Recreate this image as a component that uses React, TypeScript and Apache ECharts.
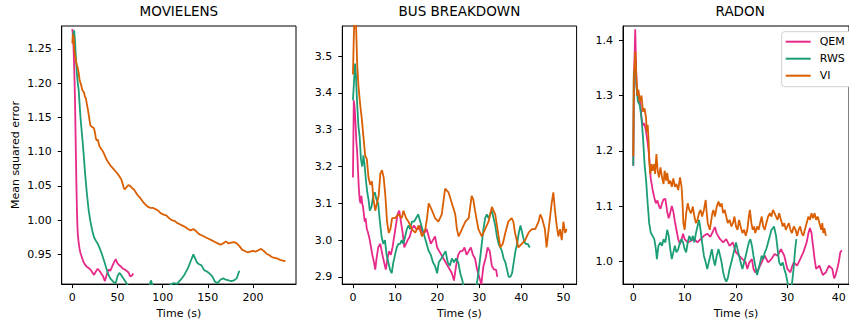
import React, { useEffect, useRef } from "react";
import * as echarts from "echarts";

const FONT = "DejaVu Sans";
const seriesNames = ["QEM", "RWS", "VI"];
const seriesColors = ["#e7298a", "#1b9e77", "#d95f02"];
const panelTitles = ["MOVIELENS", "BUS BREAKDOWN", "RADON"];

// tick values per panel
const movXTicks = [0, 50, 100, 150, 200];
const movYTicks = [0.95, 1.0, 1.05, 1.1, 1.15, 1.2, 1.25];
const busXTicks = [0, 10, 20, 30, 40, 50];
const busYTicks = [2.9, 3.0, 3.1, 3.2, 3.3, 3.4, 3.5];
const radXTicks = [0, 10, 20, 30, 40];
const radYTicks = [1.0, 1.1, 1.2, 1.3, 1.4];

// MOVIELENS [time, mse]
const movQem = [
  [0, 1.279], [0.5, 1.272], [1, 1.26], [1.5, 1.245], [2, 1.225], [2.5, 1.2], [3, 1.17], [3.5, 1.13],
  [4, 1.09], [4.5, 1.05], [5, 1.02], [5.5, 0.995], [6, 0.98], [7, 0.967], [8, 0.958], [9, 0.952],
  [10, 0.948], [11, 0.944], [12, 0.94], [14, 0.935], [16, 0.932], [18, 0.93], [20, 0.928], [22, 0.924],
  [24, 0.92], [26, 0.925], [28, 0.929], [30, 0.926], [32, 0.922], [34, 0.918], [36, 0.911], [38, 0.92],
  [40, 0.928], [42, 0.926], [44, 0.932], [46, 0.938], [48, 0.943], [50, 0.937], [52, 0.934], [54, 0.932],
  [56, 0.929], [58, 0.928], [60, 0.926], [62, 0.924], [64, 0.918], [66, 0.919], [67.5, 0.922],
];
const movRws = [
  [0.5, 1.265], [1, 1.272], [2, 1.277], [3, 1.26], [4, 1.235], [5, 1.215], [6, 1.2], [7, 1.19], [8, 1.17],
  [9, 1.15], [10, 1.135], [12, 1.105], [14, 1.07], [16, 1.04], [18, 1.015], [20, 0.998], [22, 0.985],
  [24, 0.975], [26, 0.97], [28, 0.966], [30, 0.96], [32, 0.953], [34, 0.945], [36, 0.937], [38, 0.928],
  [40, 0.92], [42, 0.915], [44, 0.912], [46, 0.909], [48, 0.908], [50, 0.918], [52, 0.923], [54, 0.92],
  [56, 0.916], [58, 0.912], [60, 0.908], [62, 0.903], [66, 0.895], [72, 0.89], [80, 0.893], [85, 0.902],
  [87, 0.912], [89, 0.904], [95, 0.895], [102, 0.895], [108, 0.905], [112, 0.908], [116, 0.907],
  [120, 0.913], [124, 0.92], [128, 0.93], [131, 0.94], [134, 0.95], [136, 0.944], [138, 0.938],
  [140, 0.936], [143, 0.934], [146, 0.927], [149, 0.925], [152, 0.922], [155, 0.918], [158, 0.91],
  [161, 0.908], [164, 0.913], [167, 0.915], [170, 0.913], [173, 0.912], [176, 0.911], [179, 0.912],
  [182, 0.915], [185, 0.926],
];
const movVi = [
  [0, 1.258], [0.5, 1.272], [1, 1.262], [1.5, 1.268], [2, 1.25], [3, 1.24], [4, 1.232], [5, 1.226],
  [6, 1.222], [7, 1.215], [8, 1.205], [9, 1.2], [10, 1.196], [11, 1.19], [12, 1.188], [13, 1.186],
  [14, 1.18], [15, 1.178], [16, 1.17], [17, 1.163], [18, 1.155], [19, 1.146], [20, 1.138], [22, 1.136],
  [24, 1.134], [25, 1.128], [26, 1.12], [27, 1.116], [28, 1.118], [30, 1.108], [32, 1.104], [34, 1.1],
  [36, 1.094], [38, 1.088], [40, 1.084], [42, 1.08], [44, 1.077], [46, 1.074], [48, 1.071], [50, 1.068],
  [52, 1.064], [54, 1.06], [56, 1.052], [57, 1.047], [58, 1.045], [60, 1.048], [62, 1.051], [64, 1.05],
  [66, 1.047], [68, 1.045], [70, 1.041], [72, 1.037], [74, 1.034], [76, 1.031], [78, 1.027], [80, 1.024],
  [83, 1.02], [86, 1.018], [89, 1.018], [92, 1.016], [95, 1.014], [98, 1.01], [101, 1.008], [104, 1.007],
  [107, 1.003], [110, 1.0], [113, 0.999], [116, 0.996], [119, 0.994], [122, 0.992], [125, 0.99],
  [128, 0.987], [131, 0.985], [134, 0.987], [137, 0.984], [140, 0.98], [143, 0.978], [146, 0.976],
  [149, 0.974], [152, 0.972], [155, 0.97], [158, 0.968], [161, 0.966], [164, 0.964], [167, 0.966],
  [170, 0.969], [173, 0.966], [176, 0.967], [179, 0.968], [182, 0.966], [185, 0.962], [188, 0.957],
  [191, 0.955], [194, 0.953], [197, 0.954], [200, 0.955], [203, 0.954], [206, 0.956], [209, 0.958],
  [212, 0.955], [215, 0.951], [218, 0.949], [221, 0.946], [224, 0.945], [227, 0.944], [230, 0.942],
  [233, 0.941], [236, 0.94],
];

// BUS BREAKDOWN
const busQem = [
  [0, 3.17], [0.2, 3.38], [0.4, 3.36], [0.6, 3.32], [0.8, 3.27], [1, 3.24], [1.2, 3.19], [1.4, 3.14],
  [1.6, 3.11], [1.8, 3.1], [2, 3.12], [2.2, 3.1], [2.4, 3.09], [2.6, 3.07], [2.8, 3.05], [3, 3.06],
  [3.3, 3.03], [3.6, 3.02], [4, 3.0], [4.3, 2.98], [4.6, 2.96], [5, 2.94], [5.3, 2.92], [5.6, 2.95],
  [6, 2.98], [6.5, 2.99], [7, 2.96], [7.4, 2.94], [7.8, 2.92], [8.2, 2.95], [8.6, 2.97], [9, 2.96],
  [9.4, 2.98], [9.8, 3.01], [10.2, 3.04], [10.6, 3.07], [11, 3.08], [11.4, 3.05], [11.8, 3.02],
  [12.2, 2.98], [12.6, 2.99], [13, 3.0], [13.5, 3.01], [14, 3.03], [14.5, 3.04], [15, 3.03],
  [15.5, 3.03], [16, 3.04], [16.5, 3.02], [17, 3.02], [17.5, 3.03], [18, 3.01], [18.5, 2.99], [19, 3.0],
  [19.5, 3.01], [20, 2.98], [20.5, 2.97], [21, 2.96], [21.5, 2.95], [22, 2.94], [22.5, 2.93], [23, 2.92],
  [23.5, 2.91], [24, 2.89], [24.5, 2.93], [25, 2.96], [25.5, 2.97], [26, 2.97], [26.5, 2.98], [27, 2.96],
  [27.5, 2.97], [28, 2.98], [28.5, 2.96], [29, 2.95], [29.5, 2.92], [30, 2.9], [30.5, 2.88], [31, 2.93],
  [31.5, 2.95], [32, 2.98], [32.5, 2.97], [33, 2.93], [33.5, 2.92], [34, 2.92], [34.3, 2.9],
];
const busRws = [
  [0, 3.38], [0.2, 3.42], [0.5, 3.48], [0.7, 3.45], [1, 3.37], [1.3, 3.31], [1.6, 3.28], [1.9, 3.22],
  [2.2, 3.2], [2.5, 3.23], [2.8, 3.2], [3.1, 3.16], [3.4, 3.13], [3.7, 3.11], [4, 3.08], [4.4, 3.09],
  [4.8, 3.12], [5.2, 3.13], [5.6, 3.11], [6, 3.1], [6.4, 3.05], [6.8, 3.01], [7.2, 2.99], [7.6, 3.0],
  [8, 2.96], [8.4, 2.94], [8.8, 2.92], [9.2, 2.91], [9.6, 2.94], [10, 2.96], [10.4, 2.98], [10.8, 2.99],
  [11.2, 2.99], [11.6, 3.0], [12, 2.99], [12.4, 3.01], [12.8, 3.03], [13.2, 3.04], [13.6, 3.03],
  [14, 3.05], [14.5, 3.05], [15, 3.06], [15.5, 3.07], [16, 3.05], [16.5, 3.03], [17, 3.01], [17.5, 2.99],
  [18, 2.97], [18.5, 2.96], [19, 2.94], [19.5, 2.93], [20, 2.91], [20.4, 2.94], [21, 2.95], [21.5, 2.96],
  [22, 2.97], [22.5, 2.94], [23, 2.93], [23.5, 2.95], [24, 2.94], [24.5, 2.95], [25, 2.94], [25.5, 2.91],
  [26, 2.89], [26.5, 2.86], [27, 2.83], [28, 2.8], [28.8, 2.84], [29.4, 2.88], [29.8, 2.91], [30.2, 2.95],
  [30.6, 2.99], [31, 3.03], [31.4, 3.06], [31.8, 3.07], [32.2, 3.06], [32.6, 3.07], [33, 3.08],
  [33.4, 3.06], [33.8, 3.04], [34.2, 3.01], [34.6, 2.99], [35, 2.98], [35.4, 2.97], [35.8, 2.95],
  [36.2, 2.94], [36.6, 2.92], [37, 2.9], [37.4, 2.9], [37.8, 2.91], [38.2, 2.94], [38.6, 2.97], [39, 2.99],
  [39.4, 3.02], [39.8, 3.04], [40.2, 3.02], [40.6, 3.0], [41, 2.99], [41.5, 2.99], [42, 2.98],
];
const busVi = [
  [0, 3.45], [0.2, 3.55], [0.4, 3.62], [0.7, 3.6], [1, 3.48], [1.3, 3.42], [1.7, 3.37], [2.1, 3.33],
  [2.5, 3.28], [2.9, 3.23], [3.3, 3.22], [3.7, 3.17], [4.1, 3.15], [4.5, 3.16], [4.9, 3.11], [5.3, 3.08],
  [5.7, 3.1], [6.1, 3.12], [6.5, 3.18], [6.9, 3.19], [7.3, 3.17], [7.7, 3.12], [8.1, 3.05], [8.5, 3.02],
  [8.9, 3.03], [9.3, 3.06], [10, 3.06], [10.8, 3.07], [11.6, 3.06], [12, 3.08], [12.6, 3.06], [13.2, 3.05],
  [14, 3.03], [14.8, 3.02], [15.6, 3.04], [16.4, 3.01], [17.2, 3.03], [17.6, 3.06], [18, 3.1], [18.8, 3.08],
  [19.5, 3.06], [20.3, 3.05], [21.1, 3.07], [21.9, 3.14], [22.7, 3.13], [23.5, 3.1], [24.3, 3.07],
  [24.7, 3.03], [25.1, 3.01], [25.9, 3.03], [26.7, 3.05], [27.5, 3.06], [28.2, 3.12], [28.6, 3.11],
  [29, 3.08], [29.8, 3.03], [30.6, 3.01], [31.4, 3.03], [32.2, 3.05], [33, 3.09], [33.8, 3.07],
  [34.6, 3.01], [35, 2.98], [35.6, 2.99], [36.2, 3.02], [36.9, 3.05], [37.7, 3.06], [38.1, 3.05],
  [38.5, 3.02], [39.3, 2.98], [40.1, 2.99], [40.9, 3.0], [41.7, 3.02], [42.5, 3.03], [43.3, 3.03],
  [44.1, 3.05], [44.5, 3.07], [44.9, 3.06], [45.6, 3.03], [46, 2.98], [46.4, 3.02], [46.8, 3.06],
  [47.2, 3.1], [47.6, 3.13], [48, 3.08], [48.4, 3.04], [48.8, 3.01], [49.2, 3.03], [49.6, 3.0], [50, 3.05],
  [50.4, 3.02], [50.8, 3.03],
];

// RADON
const radQem = [
  [0, 1.173], [0.15, 1.33], [0.38, 1.42], [0.5, 1.37], [0.63, 1.32], [0.8, 1.3], [1, 1.305], [1.2, 1.29],
  [1.4, 1.285], [1.6, 1.26], [1.8, 1.245], [2, 1.25], [2.2, 1.248], [2.5, 1.235], [2.8, 1.215], [3.1, 1.19],
  [3.4, 1.15], [3.75, 1.13], [4.1, 1.115], [4.4, 1.105], [4.7, 1.11], [5, 1.1], [5.3, 1.095], [5.6, 1.105],
  [5.9, 1.112], [6.25, 1.113], [6.6, 1.09], [6.9, 1.078], [7.2, 1.088], [7.5, 1.1], [7.8, 1.09],
  [8.1, 1.072], [8.4, 1.057], [8.75, 1.04], [9.1, 1.031], [9.4, 1.04], [9.7, 1.05], [10, 1.04],
  [10.6, 1.034], [11.25, 1.037], [11.9, 1.04], [12.5, 1.034], [13.1, 1.04], [13.75, 1.046], [14.4, 1.05],
  [15, 1.044], [15.6, 1.056], [15.9, 1.062], [16.25, 1.05], [16.9, 1.04], [17.5, 1.034], [18.1, 1.04],
  [18.75, 1.028], [19.4, 1.034], [20, 1.016], [20.6, 1.01], [21.25, 1.004], [21.9, 0.998], [22.2, 0.986],
  [22.6, 0.998], [23.1, 1.004], [23.4, 0.986], [23.75, 0.98], [24.4, 0.986], [25, 0.998], [25.6, 1.01],
  [26.25, 0.998], [26.9, 1.004], [27.5, 1.013], [28.1, 1.01], [28.75, 1.022], [29.4, 1.01], [29.7, 0.998],
  [30, 0.986], [30.6, 0.98], [30.9, 0.99], [31.25, 0.998], [31.9, 0.992], [32.5, 1.004], [33.1, 1.016],
  [33.75, 1.034], [34.1, 1.051], [34.4, 1.06], [34.7, 1.051], [35, 1.028], [35.3, 1.004], [35.6, 0.986],
  [36.25, 0.992], [36.9, 0.975], [37.5, 0.98], [38.1, 0.992], [38.75, 0.986], [39.1, 0.969], [39.4, 0.975],
  [39.7, 0.986], [40, 0.998], [40.3, 1.016], [40.6, 1.02],
];
const radRws = [
  [0, 1.173], [0.1, 1.34], [0.3, 1.348], [0.5, 1.357], [0.6, 1.318], [0.9, 1.289], [1.25, 1.283],
  [1.6, 1.259], [1.9, 1.223], [2.2, 1.176], [2.5, 1.146], [2.8, 1.105], [3.1, 1.069], [3.4, 1.052],
  [3.75, 1.046], [4.1, 1.04], [4.4, 1.022], [4.6, 1.004], [4.9, 1.028], [5.3, 1.034], [5.6, 1.028],
  [5.9, 1.04], [6.25, 1.034], [6.6, 1.057], [6.9, 1.046], [7.2, 1.022], [7.5, 1.004], [7.8, 1.016],
  [8.1, 1.028], [8.4, 1.016], [8.75, 1.022], [9.1, 1.034], [9.4, 1.04], [9.7, 1.034], [10, 1.022],
  [10.3, 1.016], [10.6, 1.034], [10.9, 1.046], [11.25, 1.037], [11.6, 1.046], [11.9, 1.034], [12.2, 1.051],
  [12.5, 1.063], [12.8, 1.075], [13.1, 1.057], [13.4, 1.034], [13.75, 1.01], [14.1, 0.998], [14.4, 0.986],
  [14.7, 0.998], [15, 1.01], [15.3, 1.022], [15.6, 1.004], [15.9, 0.992], [16.25, 1.01], [16.6, 1.022],
  [16.9, 1.01], [17.2, 0.998], [17.5, 0.98], [17.8, 0.969], [18.1, 0.963], [18.4, 0.969], [18.75, 0.986],
  [19.1, 0.998], [19.4, 1.01], [19.7, 1.022], [20, 1.034], [20.3, 1.022], [20.6, 1.01], [20.9, 0.998],
  [21.25, 0.986], [21.6, 0.998], [21.9, 1.01], [22.2, 1.022], [22.5, 1.034], [22.8, 1.04], [23.1, 1.028],
  [23.4, 1.01], [23.75, 0.992], [24.1, 0.975], [24.4, 0.986], [24.7, 0.998], [25, 1.01], [25.3, 1.004],
  [25.6, 1.016], [25.9, 1.022], [26.25, 1.034], [26.6, 1.046], [26.9, 1.057], [27.2, 1.06], [27.4, 1.063],
  [27.8, 1.046], [28.1, 1.022], [28.4, 0.998], [28.75, 0.992], [29.1, 0.998], [29.4, 0.986], [29.7, 0.977],
  [30, 0.963], [30.3, 0.951], [30.6, 0.945], [30.9, 0.96], [31.25, 0.99], [31.5, 1.02], [31.75, 1.04],
];
const radVi = [
  [0, 1.19], [0.1, 1.33], [0.4, 1.38], [0.6, 1.336], [0.8, 1.3], [1, 1.311], [1.25, 1.289], [1.6, 1.3],
  [1.9, 1.271], [2.2, 1.277], [2.5, 1.259], [2.6, 1.235], [2.8, 1.247], [3, 1.217], [3.1, 1.182],
  [3.3, 1.158], [3.6, 1.176], [3.75, 1.164], [4.1, 1.176], [4.25, 1.158], [4.5, 1.194], [4.75, 1.164],
  [5, 1.152], [5.3, 1.17], [5.6, 1.152], [5.9, 1.14], [6.1, 1.164], [6.4, 1.146], [6.6, 1.16], [6.9, 1.14],
  [7.2, 1.146], [7.5, 1.135], [7.8, 1.15], [8.1, 1.135], [8.4, 1.14], [8.75, 1.129], [9.1, 1.152],
  [9.4, 1.135], [9.6, 1.105], [9.75, 1.069], [10, 1.057], [10.3, 1.087], [10.6, 1.105], [10.9, 1.093],
  [11.25, 1.087], [11.6, 1.099], [11.9, 1.081], [12.2, 1.069], [12.5, 1.075], [12.8, 1.087], [13.1, 1.093],
  [13.4, 1.081], [13.75, 1.093], [14.1, 1.111], [14.25, 1.093], [14.5, 1.069], [14.9, 1.057], [15.1, 1.069],
  [15.4, 1.087], [15.6, 1.093], [15.9, 1.081], [16.25, 1.099], [16.6, 1.108], [16.9, 1.099], [17.2, 1.105],
  [17.5, 1.087], [17.8, 1.093], [18.1, 1.081], [18.4, 1.069], [18.75, 1.075], [19.1, 1.063], [19.4, 1.069],
  [19.7, 1.081], [20, 1.063], [20.3, 1.057], [20.6, 1.075], [20.9, 1.063], [21.25, 1.051], [21.6, 1.057],
  [21.9, 1.046], [22.2, 1.057], [22.5, 1.081], [22.7, 1.093], [23, 1.069], [23.25, 1.057], [23.5, 1.063],
  [23.75, 1.051], [24.1, 1.063], [24.4, 1.057], [24.7, 1.069], [25, 1.081], [25.3, 1.063], [25.6, 1.057],
  [25.9, 1.069], [26.25, 1.081], [26.6, 1.087], [26.9, 1.081], [27.2, 1.093], [27.5, 1.087], [27.8, 1.081],
  [28.1, 1.075], [28.4, 1.087], [28.75, 1.075], [29.1, 1.063], [29.4, 1.069], [29.7, 1.057], [30, 1.063],
  [30.3, 1.069], [30.6, 1.057], [30.9, 1.051], [31.25, 1.063], [31.6, 1.057], [31.9, 1.046], [32.2, 1.057],
  [32.5, 1.063], [32.8, 1.051], [33.1, 1.046], [33.4, 1.057], [33.75, 1.069], [34.1, 1.081], [34.4, 1.075],
  [34.7, 1.087], [35, 1.078], [35.3, 1.087], [35.6, 1.075], [35.9, 1.081], [36.25, 1.069], [36.6, 1.057],
  [36.8, 1.069], [37, 1.051], [37.2, 1.06], [37.5, 1.046],
];

const panels = [
  { title: panelTitles[0], xr: [-11.8, 247.7], yr: [0.9066, 1.2834], xt: movXTicks, yt: movYTicks, dec: 2, data: [movQem, movRws, movVi] },
  { title: panelTitles[1], xr: [-2.53, 53.13], yr: [2.8805, 3.5818], xt: busXTicks, yt: busYTicks, dec: 1, data: [busQem, busRws, busVi] },
  { title: panelTitles[2], xr: [-2.0, 42.0], yr: [0.9586, 1.4261], xt: radXTicks, yt: radYTicks, dec: 1, data: [radQem, radRws, radVi] },
];

const GRID_LEFTS = [61.7, 342.3, 623];
const GRID_TOP = 26;
const GRID_W = 234.3;
const GRID_H = 263.3;

export default function App() {
  const ref = useRef<HTMLDivElement>(null);
  useEffect(() => {
    document.body.style.margin = "0";
    if (!ref.current) return;
    const chart = echarts.init(ref.current, undefined, { renderer: "svg" });
    const txt = { color: "#000", fontFamily: FONT };
    const option: any = {
      animation: false,
      backgroundColor: "#fff",
      title: panels.map((p, i) => ({
        text: p.title,
        left: GRID_LEFTS[i] + GRID_W / 2,
        top: 4,
        textAlign: "center",
        padding: 0,
        textStyle: { ...txt, fontSize: 13.5, fontWeight: "normal" },
      })),
      legend: {
        data: seriesNames,
        orient: "vertical",
        left: 781.7,
        top: 31.7,
        icon: "rect",
        itemWidth: 25,
        itemHeight: 2,
        itemGap: 3,
        padding: [3, 14, 4, 4],
        backgroundColor: "#fff",
        borderColor: "#d0d0d0",
        borderWidth: 1,
        borderRadius: 3,
        textStyle: { ...txt, fontSize: 11, lineHeight: 14, padding: [0, 0, 0, 4] },
      },
      grid: panels.map((_, i) => ({
        left: GRID_LEFTS[i],
        top: GRID_TOP,
        width: GRID_W,
        height: GRID_H,
        show: true,
        borderColor: "#000",
        borderWidth: 1,
        backgroundColor: "transparent",
      })),
      xAxis: panels.map((p, i) => ({
        type: "value",
        gridIndex: i,
        min: p.xr[0],
        max: p.xr[1],
        name: "Time (s)",
        nameLocation: "middle",
        nameGap: 22,
        nameTextStyle: { ...txt, fontSize: 11 },
        axisLine: { show: true, onZero: false, lineStyle: { color: "#000", width: 1 } },
        axisTick: { show: true, length: 4, lineStyle: { color: "#000", width: 1 }, customValues: p.xt },
        axisLabel: { ...txt, fontSize: 11, margin: 8, customValues: p.xt, formatter: (v: number) => String(Math.round(v)) },
        splitLine: { show: false },
      })),
      yAxis: panels.map((p, i) => ({
        type: "value",
        gridIndex: i,
        min: p.yr[0],
        max: p.yr[1],
        name: i === 0 ? "Mean squared error" : "",
        nameLocation: "middle",
        nameGap: 41,
        nameRotate: 90,
        nameTextStyle: { ...txt, fontSize: 11 },
        axisLine: { show: true, onZero: false, lineStyle: { color: "#000", width: 1 } },
        axisTick: { show: true, length: 4, lineStyle: { color: "#000", width: 1 }, customValues: p.yt },
        axisLabel: { ...txt, fontSize: 11, margin: 10, customValues: p.yt, formatter: (v: number) => v.toFixed(p.dec) },
        splitLine: { show: false },
      })),
      series: panels.flatMap((p, i) =>
        p.data.map((d, k) => ({
          type: "line",
          name: seriesNames[k],
          xAxisIndex: i,
          yAxisIndex: i,
          data: d,
          showSymbol: false,
          symbol: "none",
          clip: true,
          color: seriesColors[k],
          lineStyle: { color: seriesColors[k], width: 1.8 },
          emphasis: { disabled: true },
        }))
      ),
    };
    chart.setOption(option);
    return () => chart.dispose();
  }, []);
  return <div ref={ref} style={{ width: 849, height: 324 }} />;
}
